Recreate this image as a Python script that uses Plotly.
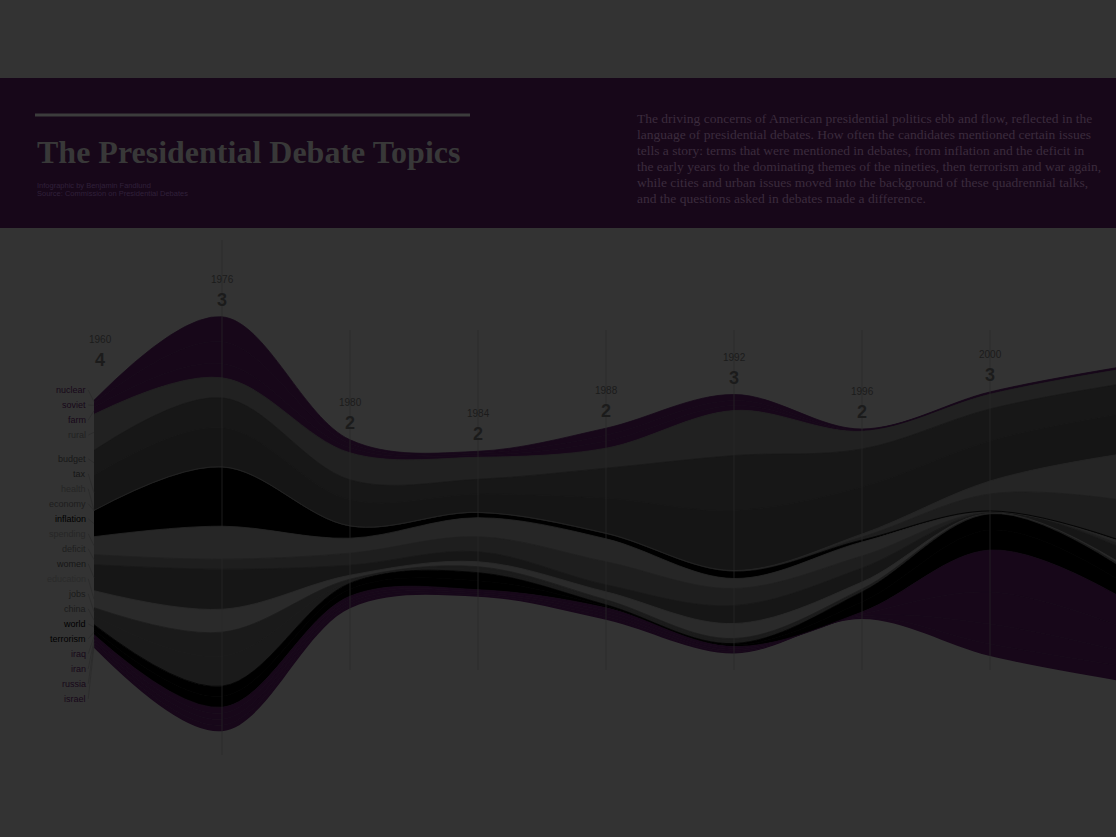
import plotly.graph_objects as go
import numpy as np

# ---------------- data ----------------
years = ["1960", "1976", "1980", "1984", "1988", "1992", "1996", "2000", "2004"]
debates = [4, 3, 2, 2, 2, 3, 2, 3, 3]

topics = ["nuclear", "soviet", "farm", "rural", "budget", "tax", "health", "economy",
          "inflation", "spending", "deficit", "women", "education", "jobs", "china",
          "world", "terrorism", "iraq", "iran", "russia", "israel"]

nuclear   = [3, 25, 4, 2, 7, 6, 0.7, 0.7, 0.7]
soviet    = [4, 22, 4, 2, 6, 5, 0.6, 0.6, 0.6]
farm      = [7, 14, 5, 2, 7, 5, 0.7, 0.7, 0.7]
rural     = [36, 20, 27, 22, 20, 45, 18, 15, 15]
budget    = [25, 30, 20, 15, 30, 55, 38, 32, 30]
tax       = [35, 39, 26, 18, 35, 60, 47, 40, 40]
health    = [0.2, 0.2, 0.2, 0.2, 0.3, 0.5, 3, 13, 45]
economy   = [0.2, 0.2, 0.2, 0.2, 0.3, 0.5, 3, 17, 40]
inflation = [26, 59, 12, 5, 5, 7, 2, 0.5, 1]
spending  = [18, 33, 15, 19, 23, 10, 14, 0.5, 3]
deficit   = [10, 10, 12, 15, 23, 17, 12, 0.5, 3]
women     = [26, 40, 10, 10, 7, 18, 14, 0.5, 15]
education = [17, 23, 4, 5, 8, 15, 7, 0.5, 2]
jobs      = [8, 24, 2, 3, 2, 2, 1.5, 0.3, 1]
china     = [9, 30, 2, 3, 3, 3, 1.5, 0.3, 1]
world     = [5, 10, 6, 8, 1.5, 1.5, 10, 16, 14]
terrorism = [5, 11, 7, 9, 1.5, 1.5, 10, 20, 16]
iraq      = [4, 6, 3, 2, 3, 2, 2, 42, 30]
iran      = [3, 6, 3, 2, 3, 2, 2, 32, 25]
russia    = [3, 6, 3, 1.5, 3, 1.5, 1.5, 20, 15]
israel    = [3, 6, 3, 1.5, 3, 1.5, 1.5, 12, 15]

series = [nuclear, soviet, farm, rural, budget, tax, health, economy, inflation,
          spending, deficit, women, education, jobs, china, world, terrorism,
          iraq, iran, russia, israel]

title_text = "The Presidential Debate Topics"
byline = ["Infographic by Benjamin Fandlund",
          "Source: Commission on Presidential Debates"]
paragraph = [
    "The driving concerns of American presidential politics ebb and flow, reflected in the",
    "language of presidential debates. How often the candidates mentioned certain issues",
    "tells a story: terms that were mentioned in debates, from inflation and the deficit in",
    "the early years to the dominating themes of the nineties, then terrorism and war again,",
    "while cities and urban issues moved into the background of these quadrennial talks,",
    "and the questions asked in debates made a difference.",
]

# ---------------- styles ----------------
P = "#170719"
BG = "#333333"
colors = [P, P, P, "#212121", "#171717", "#151515", "#252525", "#1d1d1d", "#000000",
          "#262626", "#1e1e1e", "#161616", "#2a2a2a", "#1a1a1a", "#1a1a1a",
          "#000000", "#000000", P, P, P, P]

W, H = 1116, 837
X0PX, STEP = 94, 128
CENTER = 524

xs = list(range(len(years)))
vals = np.array(series, dtype=float)          # topics x time (top first)
total = vals.sum(axis=0)
baseline = -total / 2.0

fig = go.Figure()

# stacked streamgraph (silhouette), from bottom topic up
fig.add_trace(go.Scatter(x=xs, y=baseline, mode="lines", line=dict(width=0, shape="spline"),
                         hoverinfo="skip", showlegend=False))
cum = baseline.copy()
bounds = {}
for k in range(len(topics) - 1, -1, -1):
    lower = cum.copy()
    cum = cum + vals[k]
    bounds[k] = (lower, cum.copy())
    fig.add_trace(go.Scatter(x=xs, y=cum, mode="lines", fill="tonexty",
                             fillcolor=colors[k],
                             line=dict(width=0.8, color=colors[k], shape="spline"),
                             name=topics[k], hoverinfo="name", showlegend=False))

# topic labels at the left edge with leader lines
mids = [(bounds[k][0][0] + bounds[k][1][0]) / 2 for k in range(len(topics))]


def spread(ideal, gap, iters=1000):
    y = list(ideal)
    for _ in range(iters):
        for i in range(len(y) - 1):
            d = y[i] - y[i + 1]
            if d < gap:
                p = (gap - d) / 2
                y[i] += p
                y[i + 1] -= p
    return y


label_y = spread(mids, 15)
lx, ly = [], []
for k in range(len(topics)):
    lx += [-0.045, 0, None]
    ly += [label_y[k], mids[k], None]
fig.add_trace(go.Scatter(x=lx, y=ly, mode="lines", line=dict(color="#2a2a2a", width=0.7),
                         hoverinfo="skip", showlegend=False))

annotations = []
for k, t in enumerate(topics):
    annotations.append(dict(x=-0.05, y=label_y[k], xref="x", yref="y", text=t,
                            showarrow=False, xanchor="right", yanchor="middle",
                            font=dict(family="Liberation Sans", size=9, color=colors[k])))

# year labels above the stream
tops = total / 2.0
for i, yr in enumerate(years):
    annotations.append(dict(
        x=xs[i], y=tops[i], xref="x", yref="y",
        text=f"<span style='font-size:10px'>{yr}</span><br><b>{debates[i]}</b>",
        showarrow=False, xanchor="center", yanchor="bottom",
        yshift=28 if i == 0 else 5, xshift=6 if i == 0 else 0,
        font=dict(family="Liberation Sans", size=18, color="#1b1b1b")))

shapes = []
# header band
shapes.append(dict(type="rect", xref="paper", yref="paper", x0=0, x1=1,
                   y0=1 - 228 / H, y1=1 - 78 / H, fillcolor=P, line=dict(width=0), layer="below"))
shapes.append(dict(type="line", xref="paper", yref="paper", x0=35 / W, x1=470 / W,
                   y0=1 - 115 / H, y1=1 - 115 / H, line=dict(color="#3c3c3c", width=3)))
# year guide lines
for i in xs[1:]:
    if i == 1:
        y0, y1 = CENTER - 755, CENTER - 240
    else:
        y0, y1 = CENTER - 670, CENTER - 330
    shapes.append(dict(type="line", xref="x", yref="y", x0=i, x1=i, y0=y0, y1=y1,
                       line=dict(color="rgba(40,40,40,0.7)", width=1), layer="above"))

# header texts
annotations.append(dict(x=35 / W, y=1 - 152 / H, xref="paper", yref="paper", text=f"<b>{title_text}</b>",
                        showarrow=False, xanchor="left", yanchor="middle",
                        font=dict(family="Liberation Serif", size=32, color="#383838")))
for j, line in enumerate(byline):
    annotations.append(dict(x=35 / W, y=1 - (185 + 8 * j) / H, xref="paper", yref="paper", text=line,
                            showarrow=False, xanchor="left", yanchor="middle",
                            font=dict(family="Liberation Sans", size=7.5, color="#30203a")))
for j, line in enumerate(paragraph):
    annotations.append(dict(x=635 / W, y=1 - (118 + 16 * j) / H, xref="paper", yref="paper", text=line,
                            showarrow=False, xanchor="left", yanchor="middle",
                            font=dict(family="Liberation Serif", size=13.5, color="#3b2b3d")))

fig.update_layout(
    width=W, height=H, margin=dict(l=0, r=0, t=0, b=0),
    paper_bgcolor=BG, plot_bgcolor=BG, showlegend=False,
    xaxis=dict(range=[-X0PX / STEP, (W - X0PX) / STEP], visible=False, fixedrange=True),
    yaxis=dict(range=[CENTER - H, CENTER], visible=False, fixedrange=True),
    shapes=shapes, annotations=annotations,
)

fig.write_html("out.html")
